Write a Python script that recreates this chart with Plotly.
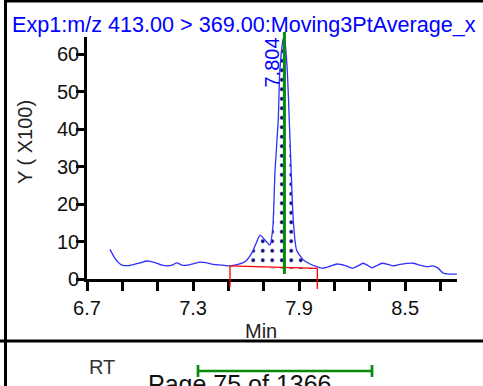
import plotly.graph_objects as go
import numpy as np

# ---- data ----
time_min = [6.830, 6.853, 6.875, 6.898, 6.943, 7.000, 7.039, 7.085, 7.124, 7.153,
            7.181, 7.209, 7.237, 7.266, 7.305, 7.339, 7.379, 7.413, 7.464, 7.509,
            7.554, 7.594, 7.632, 7.660, 7.679, 7.707, 7.735, 7.751, 7.764, 7.782,
            7.791, 7.811, 7.820, 7.833, 7.848, 7.867, 7.886, 7.924, 7.962, 8.000,
            8.030, 8.069, 8.114, 8.160, 8.205, 8.233, 8.262, 8.290, 8.312, 8.341,
            8.369, 8.403, 8.431, 8.471, 8.544, 8.584, 8.624, 8.658, 8.686, 8.714,
            8.748, 8.793]
intensity = [7.9, 5.9, 4.5, 3.7, 3.6, 4.3, 4.8, 4.4, 3.7, 3.5,
             3.7, 4.3, 3.7, 3.7, 4.1, 4.5, 4.3, 3.9, 3.7, 3.5,
             3.9, 4.6, 6.9, 9.9, 11.7, 10.4, 9.1, 13.6, 29.1, 42.4,
             55.7, 64.2, 63.2, 55.7, 37.9, 15.7, 7.7, 5.1, 4.0, 3.3,
             2.9, 3.3, 4.0, 3.6, 2.9, 3.5, 4.2, 3.6, 3.0, 3.6,
             4.2, 3.9, 3.5, 3.9, 4.2, 3.7, 3.3, 3.5, 2.9, 1.6,
             1.3, 1.3]

peak_start, peak_end = 7.509, 8.003          # integration limits (min)
base_start, base_end = 3.5, 2.85             # baseline heights (x100)
rt_line = 7.817                              # position of RT marker
rt_label = "7.804"

x_tickvals = [6.7, 6.9, 7.1, 7.3, 7.5, 7.7, 7.9, 8.1, 8.3, 8.5, 8.7]
x_ticktext = ["6.7", "", "", "7.3", "", "", "7.9", "", "", "8.5", ""]
y_tickvals = [0, 10, 20, 30, 40, 50, 60]

title_text = "Exp1:m/z 413.00 > 369.00:Moving3PtAverage_x"
ytitle_text = "Y ( X100)"
xtitle_text = "Min"
rt_text = "RT"
page_text = "Page 75 of 1366"

# ---- layout geometry ----
W, H = 483, 386
L, R, T, B = 87, 26, 37, 107
PW, PH = W - L - R, H - T - B
XR = [6.7, 6.7 + PW / 176.75]
YR = [0, 64.6]

def px(x):
    return (x - L) / PW

def py(y):
    return (H - B - y) / PH

def vy(v):
    return v / YR[1]

FONT = "Liberation Sans, Arial, sans-serif"

fig = go.Figure()

# peak fill (dotted)
t = np.array(time_min)
v = np.array(intensity)
mask = (t > peak_start) & (t < peak_end)
pt = [peak_start] + list(t[mask]) + [peak_end]
pv = [float(np.interp(peak_start, t, v))] + list(v[mask]) + [float(np.interp(peak_end, t, v))]
poly_x = pt + [peak_end, peak_start]
poly_y = pv + [base_end, base_start]
fig.add_trace(go.Scatter(
    x=poly_x, y=poly_y, mode="lines", fill="toself",
    line=dict(width=0, color="rgba(0,0,0,0)", shape="spline", smoothing=0.6),
    fillcolor="rgba(255,255,255,0)",
    fillpattern=dict(shape=".", fgcolor="#00007a", bgcolor="rgba(255,255,255,0)",
                     size=9.5, solidity=0.12, fgopacity=1),
    hoverinfo="skip", showlegend=False))

# chromatogram
fig.add_trace(go.Scatter(
    x=time_min, y=intensity, mode="lines",
    line=dict(color="#2f2fff", width=1.3, shape="spline", smoothing=0.6),
    showlegend=False))

shapes = []
# baseline + limits (red)
shapes.append(dict(type="line", xref="x", yref="y", x0=peak_start, x1=peak_end,
                   y0=base_start, y1=base_end, line=dict(color="#ff0000", width=1.3)))
shapes.append(dict(type="line", xref="x", yref="paper", x0=peak_start, x1=peak_start,
                   y0=vy(base_start), y1=py(287), line=dict(color="#ff0000", width=1.3)))
shapes.append(dict(type="line", xref="x", yref="paper", x0=peak_end, x1=peak_end,
                   y0=vy(base_end), y1=py(289), line=dict(color="#ff0000", width=1.3)))
# RT marker (green)
shapes.append(dict(type="line", xref="x", yref="paper", x0=rt_line, x1=rt_line,
                   y0=py(274), y1=py(32), line=dict(color="#0a8a0a", width=3)))
# frame lines
shapes.append(dict(type="line", xref="paper", yref="paper", x0=px(5.5), x1=px(5.5),
                   y0=py(0), y1=py(H), line=dict(color="black", width=3)))
shapes.append(dict(type="line", xref="paper", yref="paper", x0=px(4), x1=px(W),
                   y0=py(1), y1=py(1), line=dict(color="black", width=3)))
shapes.append(dict(type="line", xref="paper", yref="paper", x0=px(0), x1=px(W),
                   y0=py(341), y1=py(341), line=dict(color="black", width=3)))
# green RT range bar
shapes.append(dict(type="line", xref="paper", yref="paper", x0=px(198), x1=px(372),
                   y0=py(371), y1=py(371), line=dict(color="#0a8a0a", width=2.7)))
for xx in (198, 372):
    shapes.append(dict(type="line", xref="paper", yref="paper", x0=px(xx), x1=px(xx),
                       y0=py(365), y1=py(377), line=dict(color="#0a8a0a", width=2.7)))

ann = []
ann.append(dict(text=title_text, xref="paper", yref="paper", x=px(10), y=py(25),
                xanchor="left", yanchor="middle", showarrow=False,
                font=dict(family=FONT, size=21.6, color="#0000ff")))
ann.append(dict(text=rt_label, xref="paper", yref="paper", x=px(271.5), y=py(63),
                xanchor="center", yanchor="middle", textangle=-90, showarrow=False,
                font=dict(family=FONT, size=20, color="#0000ff")))
ann.append(dict(text=ytitle_text, xref="paper", yref="paper", x=px(25), y=py(142),
                xanchor="center", yanchor="middle", textangle=-90, showarrow=False,
                font=dict(family=FONT, size=20, color="#222222")))
ann.append(dict(text=xtitle_text, xref="paper", yref="paper", x=px(261), y=py(331),
                xanchor="center", yanchor="middle", showarrow=False,
                font=dict(family=FONT, size=20, color="#222222")))
ann.append(dict(text=rt_text, xref="paper", yref="paper", x=px(101.5), y=py(367),
                xanchor="center", yanchor="middle", showarrow=False,
                font=dict(family=FONT, size=20, color="#333333")))
ann.append(dict(text=page_text, xref="paper", yref="paper", x=px(146), y=py(384),
                xanchor="left", yanchor="middle", showarrow=False,
                font=dict(family=FONT, size=25, color="#111111")))

fig.update_layout(
    width=W, height=H, margin=dict(l=L, r=R, t=T, b=B, pad=0),
    paper_bgcolor="white", plot_bgcolor="white",
    shapes=shapes, annotations=ann,
    xaxis=dict(range=XR, tickvals=x_tickvals, ticktext=x_ticktext,
               showgrid=False, zeroline=False, showline=True, linecolor="black",
               linewidth=2.7, ticks="outside", ticklen=9, tickwidth=2.7,
               tickcolor="black", tickfont=dict(family=FONT, size=20, color="#111111")),
    yaxis=dict(range=YR, tickvals=y_tickvals,
               showgrid=False, zeroline=False, showline=True, linecolor="black",
               linewidth=2.7, ticks="outside", ticklen=8, tickwidth=2.7,
               ticklabelstandoff=-7,
               tickcolor="black", tickfont=dict(family=FONT, size=20, color="#111111")),
)

fig.write_html("out.html")
